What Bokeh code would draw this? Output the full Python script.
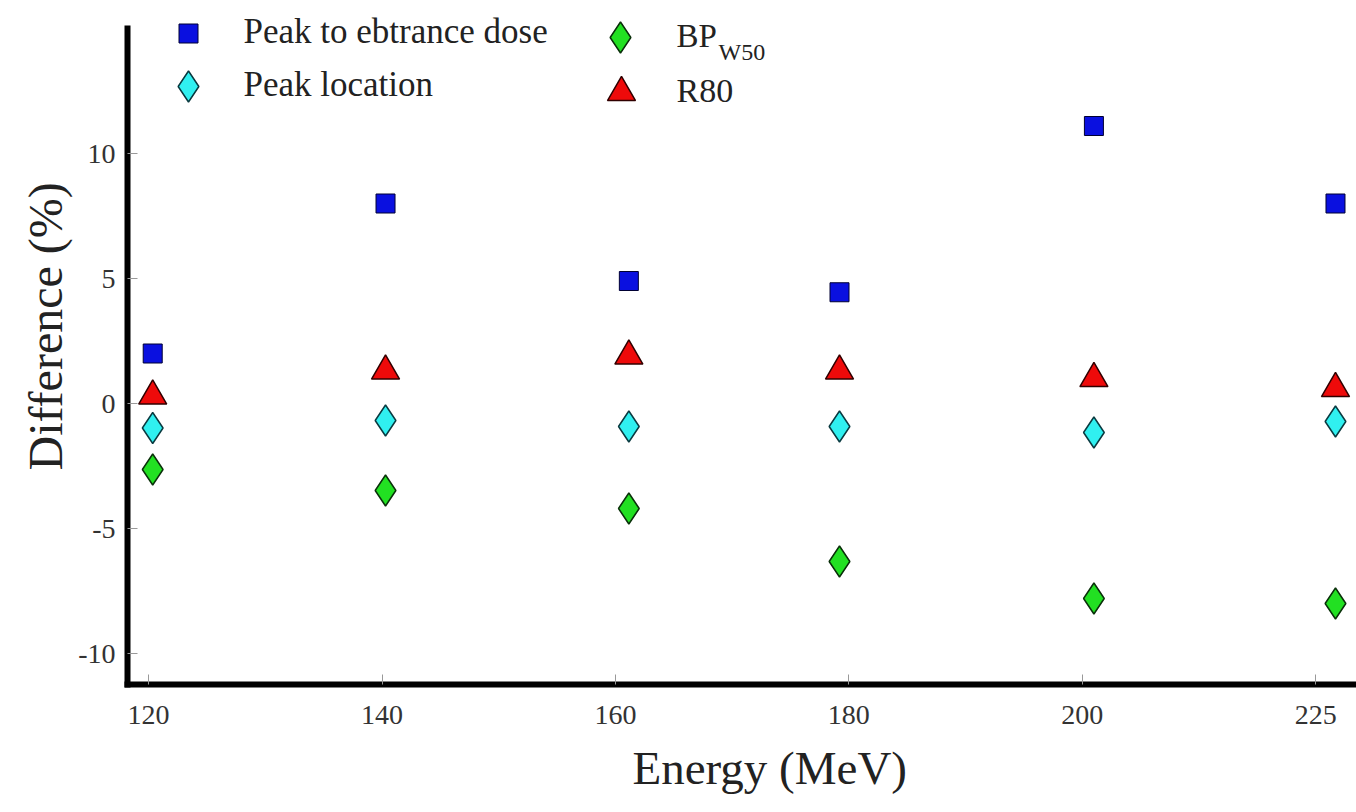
from bokeh.plotting import figure
from bokeh.models import Range1d, FixedTicker, Label, Title
from bokeh.embed import file_html
from bokeh.resources import INLINE

# ---- data ----
energy_labels = ["120", "140", "160", "180", "200", "225"]
energy_tick_pos = [120, 140, 160, 180, 200, 220]
energy_x = [120.35, 140.3, 161.15, 179.2, 201.0, 221.7]

peak_to_entrance = [2.0, 8.0, 4.9, 4.45, 11.1, 8.0]
peak_location = [-0.98, -0.68, -0.92, -0.92, -1.16, -0.72]
bp_w50 = [-2.64, -3.48, -4.2, -6.32, -7.8, -8.0]
r80 = [0.3, 1.3, 1.9, 1.3, 1.0, 0.6]

y_ticks = [-10, -5, 0, 5, 10]
y_tick_labels = ["-10", "-5", "0", "5", "10"]

# ---- geometry ----
W, H = 1356, 812
BL, BT = 127, 8
BB = H - 684
X0, X1 = 118.19, 223.5
Y0, Y1 = -11.24, 15.8
FONT = "Liberation Serif"

p = figure(width=W, height=H, output_backend="svg", toolbar_location=None,
           x_range=Range1d(X0, X1), y_range=Range1d(Y0, Y1),
           min_border_left=BL, min_border_bottom=BB, min_border_top=BT,
           min_border_right=0)
p.title.visible = False
p.outline_line_color = None
p.grid.visible = False
p.background_fill_color = "white"

# frame pixel helpers (page px -> data), for the hand-placed legend
FL, FT = BL, BT
FW, FH = W - BL, H - BB - BT


def px2x(px):
    return X0 + (px - FL) / FW * (X1 - X0)


def py2y(py):
    return Y1 - (py - FT) / FH * (Y1 - Y0)


# axes
for ax in (p.xaxis[0], p.yaxis[0]):
    ax.axis_line_width = 6
    ax.axis_line_color = "black"
    ax.axis_line_cap = "square"
    ax.major_tick_in = 10
    ax.major_tick_out = 0
    ax.major_tick_line_color = "#999999"
    ax.major_tick_line_width = 1
    ax.minor_tick_line_color = None
    ax.major_label_text_font = FONT
    ax.major_label_text_font_size = "28px"
    ax.major_label_text_color = "#333333"

p.xaxis.ticker = FixedTicker(ticks=energy_tick_pos)
p.xaxis.major_label_overrides = {t: l for t, l in zip(energy_tick_pos, energy_labels)}
p.xaxis.major_label_standoff = 21

p.yaxis.ticker = FixedTicker(ticks=y_ticks)
p.yaxis.major_label_overrides = {t: l for t, l in zip(y_ticks, y_tick_labels)}
p.yaxis.bounds = (Y0, 15.0)
p.yaxis.major_label_standoff = 12

# axis titles as side titles (so they can be shifted like the reference)
p.add_layout(Title(text="Energy (MeV)", align="left", offset=505,
                   text_font=FONT, text_font_size="47px", text_font_style="normal",
                   text_color="#222222", standoff=27), "below")
p.add_layout(Title(text="Difference (%)", align="left", offset=214,
                   text_font=FONT, text_font_size="48px", text_font_style="normal",
                   text_color="#222222", standoff=8), "left")

styles = {
    "sq": dict(marker="square", size=19, fill_color="#0a10e0", line_color="#000033", line_width=1),
    "cy": dict(marker="diamond", size=31, fill_color="#30f0f0", line_color="#0a3a40", line_width=1.5),
    "gr": dict(marker="diamond", size=31, fill_color="#22e022", line_color="#0a300a", line_width=1.5),
    "rd": dict(marker="triangle", size=28, fill_color="#ee0a0a", line_color="#300000", line_width=1.5),
}

p.scatter(energy_x, peak_to_entrance, **styles["sq"])
p.scatter(energy_x, peak_location, **styles["cy"])
p.scatter(energy_x, bp_w50, **styles["gr"])
p.scatter(energy_x, r80, **styles["rd"])

# ---- legend (manual, two columns) ----
leg = [
    ("sq", 188, 33, "Peak to ebtrance dose", 243, "35px"),
    ("cy", 188, 86, "Peak location", 243, "35px"),
    ("gr", 620, 37, "BP", 676, "33px"),
    ("rd", 621, 92, "R80", 676, "34px"),
]
for key, mx, my, txt, tx, fs in leg:
    p.scatter([px2x(mx)], [py2y(my)], **styles[key])
    p.add_layout(Label(x=px2x(tx), y=py2y(my - 2), text=txt, text_font=FONT,
                       text_font_size=fs, text_baseline="middle",
                       text_align="left", text_color="#222222"))
p.add_layout(Label(x=px2x(718), y=py2y(51), text="W50", text_font=FONT,
                   text_font_size="24px", text_baseline="middle",
                   text_align="left", text_color="#222222"))

open("out.html", "w").write(file_html(p, INLINE))
